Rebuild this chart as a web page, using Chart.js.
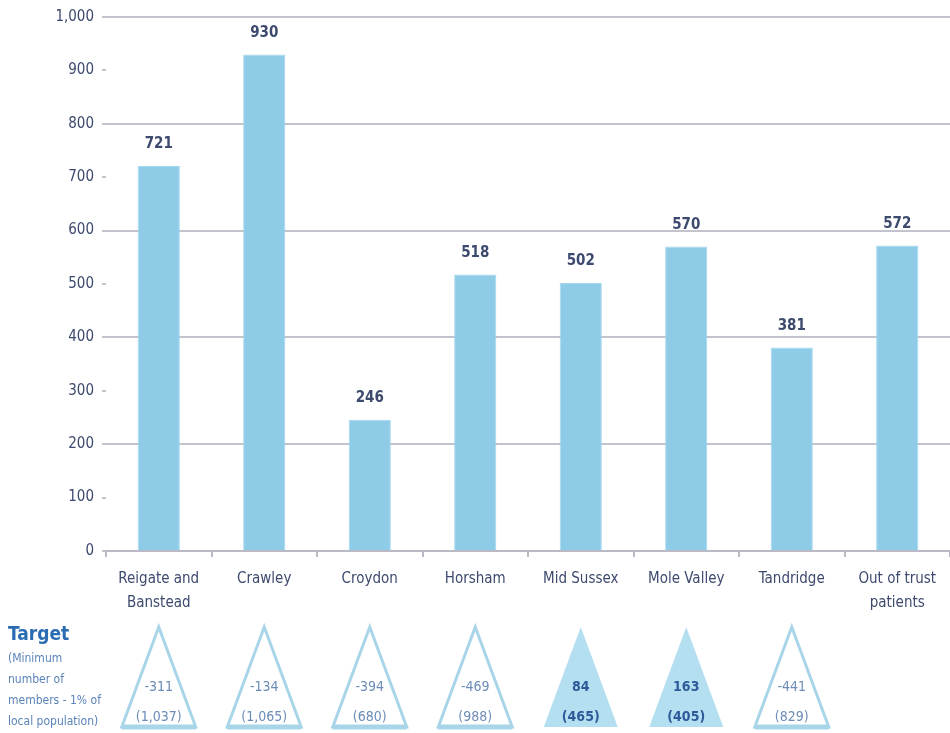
<!DOCTYPE html>
<html lang="en">
  <head>
    <meta charset="UTF-8" />
    <title>Members by area</title>
    <style>
    body { margin: 0; background-color: #ffffff; }
    #wrap { position: relative; width: 950px; height: 733px; }
    </style>
    <script src="https://cdn.jsdelivr.net/npm/chart.js@4/dist/chart.umd.min.js"></script>
  </head>
  <body>
    <div id="wrap"><canvas id="chart" width="950" height="733"></canvas></div>

    <script>
      // areas along the x axis
      const areas = [['Reigate and', 'Banstead'], 'Crawley', 'Croydon', 'Horsham', 'Mid Sussex', 'Mole Valley', 'Tandridge', ['Out of trust', 'patients']];
      // members per area
      const members = [721, 930, 246, 518, 502, 570, 381, 572];
      // gap to target and the target itself (null = no target)
      const targetGap = [-311, -134, -394, -469, 84, 163, -441, null];
      const targetMin = [1037, 1065, 680, 988, 465, 405, 829, null];

      const navy = '#3d4a6e';
      const fam = "'Liberation Sans Narrow', 'Arial Narrow', 'DejaVu Sans Condensed', sans-serif";

      // numbers over the bars
      const barValues = {
        id: 'barValues',
        afterDatasetsDraw(chart) {
          const ctx = chart.ctx;
          const meta = chart.getDatasetMeta(0);
          ctx.save();
          ctx.fillStyle = navy;
          ctx.font = 'bold 15px ' + fam;
          ctx.textAlign = 'center';
          ctx.textBaseline = 'bottom';
          meta.data.forEach((bar, i) => {
            ctx.fillText(members[i], bar.x, bar.y - 14);
          });
          ctx.restore();
        }
      };

      // target triangles under the axis
      const targets = {
        id: 'targets',
        afterDraw(chart) {
          const ctx = chart.ctx;
          const x = chart.scales.x;
          ctx.save();
          for (let i = 0; i < areas.length; i++) {
            if (targetGap[i] === null) continue;
            const cx = x.getPixelForValue(i);
            const top = 627, bot = 727, half = 37;
            ctx.beginPath();
            ctx.moveTo(cx, top);
            ctx.lineTo(cx + half, bot);
            ctx.lineTo(cx - half, bot);
            ctx.closePath();
            const met = targetGap[i] > 0;
            if (met) {
              ctx.fillStyle = '#b4dff1';
              ctx.fill();
            } else {
              ctx.lineWidth = 3;
              ctx.strokeStyle = '#a9d5e8';
              ctx.stroke();
              ctx.beginPath();
              ctx.moveTo(cx - half, bot);
              ctx.lineTo(cx + half, bot);
              ctx.lineWidth = 5;
              ctx.stroke();
            }
            ctx.fillStyle = met ? '#2e5a9a' : '#6d8cb8';
            ctx.font = (met ? 'bold ' : '') + '14px ' + fam;
            ctx.textAlign = 'center';
            ctx.textBaseline = 'middle';
            ctx.fillText(targetGap[i], cx, 687);
            ctx.fillText('(' + targetMin[i].toLocaleString('en-US') + ')', cx, 717);
          }
          // left caption
          ctx.textAlign = 'left';
          ctx.textBaseline = 'alphabetic';
          ctx.fillStyle = '#2b6cb3';
          ctx.font = 'bold 19px ' + fam;
          ctx.fillText('Target', 8, 640);
          ctx.fillStyle = '#5a83b8';
          ctx.font = '12px ' + fam;
          ['(Minimum', 'number of', 'members - 1% of', 'local population)'].forEach((t, k) => {
            ctx.fillText(t, 8, 662 + k * 21);
          });
          ctx.restore();
        }
      };

      const ctx = document.getElementById('chart').getContext('2d');
      const myChart = new Chart(ctx, {
        type: 'bar',
        data: {
          labels: areas,
          datasets: [{
            data: members,
            backgroundColor: '#8dcbe7',
            borderColor: '#a3d7ee',
            borderWidth: 1,
            categoryPercentage: 1,
            barPercentage: 0.4
          }]
        },
        options: {
          responsive: false,
          animation: false,
          layout: { padding: { top: 14, right: 0, left: 0, bottom: 0 } },
          plugins: { legend: { display: false }, tooltip: { enabled: false } },
          scales: {
            x: {
              afterFit(s) { s.height = 182; },
              border: { display: true, color: '#b9bac6', width: 2 },
              grid: { drawOnChartArea: false, drawTicks: true, tickLength: 6, offset: true, color: '#b9bac6', lineWidth: 2 },
              ticks: { color: navy, font: { family: fam, size: 15, lineHeight: 1.6 }, padding: 10, maxRotation: 0, autoSkip: false }
            },
            y: {
              min: 0,
              max: 1000,
              afterFit(s) { s.width = 106; },
              border: { display: false },
              grid: {
                color: c => (c.tick.value % 200 === 0 ? '#c2c3cd' : 'rgba(0,0,0,0)'),
                tickColor: '#c2c3cd',
                lineWidth: 2,
                tickLength: 4
              },
              ticks: { stepSize: 100, color: navy, font: { family: fam, size: 15 }, padding: 8 }
            }
          }
        },
        plugins: [barValues, targets]
      });
    </script>
  </body>
</html>
